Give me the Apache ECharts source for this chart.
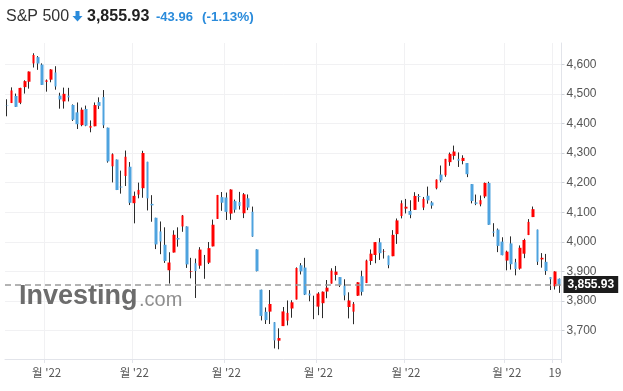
<!DOCTYPE html>
<html>
<head>
<meta charset="utf-8">
<script src="https://cdn.jsdelivr.net/npm/echarts@6/dist/echarts.min.js"></script>
<style>
html,body{margin:0;padding:0;background:#fff;}
#chart{width:623px;height:391px;}
</style>
</head>
<body>
<div id="chart"></div>
<script>
// ---- data (S&P 500 daily, Mar 21 - Sep 20, 2022) ----
const dates = [
'2022-03-21','2022-03-22','2022-03-23','2022-03-24','2022-03-25','2022-03-28','2022-03-29','2022-03-30','2022-03-31',
'2022-04-01','2022-04-04','2022-04-05','2022-04-06','2022-04-07','2022-04-08','2022-04-11','2022-04-12','2022-04-13','2022-04-14',
'2022-04-18','2022-04-19','2022-04-20','2022-04-21','2022-04-22','2022-04-25','2022-04-26','2022-04-27','2022-04-28','2022-04-29',
'2022-05-02','2022-05-03','2022-05-04','2022-05-05','2022-05-06','2022-05-09','2022-05-10','2022-05-11','2022-05-12','2022-05-13',
'2022-05-16','2022-05-17','2022-05-18','2022-05-19','2022-05-20','2022-05-23','2022-05-24','2022-05-25','2022-05-26','2022-05-27','2022-05-31',
'2022-06-01','2022-06-02','2022-06-03','2022-06-06','2022-06-07','2022-06-08','2022-06-09','2022-06-10','2022-06-13','2022-06-14',
'2022-06-15','2022-06-16','2022-06-17','2022-06-21','2022-06-22','2022-06-23','2022-06-24','2022-06-27','2022-06-28','2022-06-29','2022-06-30',
'2022-07-01','2022-07-05','2022-07-06','2022-07-07','2022-07-08','2022-07-11','2022-07-12','2022-07-13','2022-07-14','2022-07-15',
'2022-07-18','2022-07-19','2022-07-20','2022-07-21','2022-07-22','2022-07-25','2022-07-26','2022-07-27','2022-07-28','2022-07-29',
'2022-08-01','2022-08-02','2022-08-03','2022-08-04','2022-08-05','2022-08-08','2022-08-09','2022-08-10','2022-08-11','2022-08-12',
'2022-08-15','2022-08-16','2022-08-17','2022-08-18','2022-08-19','2022-08-22','2022-08-23','2022-08-24','2022-08-25','2022-08-26',
'2022-08-29','2022-08-30','2022-08-31',
'2022-09-01','2022-09-02','2022-09-06','2022-09-07','2022-09-08','2022-09-09','2022-09-12','2022-09-13','2022-09-14','2022-09-15',
'2022-09-16','2022-09-19','2022-09-20'
];
const opens = [
4462.4,4469.1,4493.1,4470.0,4522.9,4541.1,4602.9,4624.2,4599.0,
4540.3,4548.0,4572.5,4494.2,4474.7,4494.2,4462.6,4437.6,4394.3,4449.1,
4385.6,4390.6,4472.3,4489.2,4385.8,4255.3,4278.1,4186.5,4222.6,4253.8,
4130.6,4159.8,4181.2,4270.4,4128.2,4081.3,4035.2,3990.1,3903.9,3963.9,
4013.0,4052.0,4052.0,3899.0,3927.8,3919.4,3942.9,3929.6,3984.6,4077.4,4151.1,
4149.8,4095.4,4137.6,4134.7,4096.5,4147.1,4101.7,3974.4,3838.2,3763.5,
3764.1,3728.2,3665.9,3715.3,3733.9,3774.7,3805.2,3920.8,3913.0,3825.1,3786.0,
3781.0,3792.6,3832.0,3858.9,3888.3,3880.9,3851.9,3779.7,3764.0,3818.0,
3883.8,3860.7,3935.3,3955.5,3998.4,3965.7,3953.2,3951.4,4026.1,4087.3,
4112.4,4104.2,4108.0,4154.9,4115.9,4155.9,4133.1,4181.0,4227.4,4225.0,
4269.4,4290.5,4280.4,4273.1,4266.3,4195.1,4133.1,4126.6,4153.3,4198.7,
4034.6,4041.3,4000.7,
3936.7,3994.7,3930.9,3909.4,3959.9,4022.9,4083.7,4041.2,3940.7,3932.4,
3880.9,3849.9,3875.2
];
const highs = [
4481.8,4522.0,4501.1,4520.6,4546.0,4575.7,4637.3,4627.8,4603.1,
4548.7,4583.5,4593.5,4503.9,4521.2,4520.4,4464.4,4471.0,4453.9,4460.5,
4410.3,4471.0,4488.3,4512.9,4385.8,4299.0,4278.1,4240.7,4308.5,4269.7,
4169.8,4200.1,4307.7,4270.4,4157.7,4081.3,4068.8,4049.1,3964.8,4038.9,
4049.0,4090.7,4052.0,3945.9,3943.4,3981.9,3955.7,3999.3,4075.1,4158.5,4168.3,
4166.5,4177.5,4142.7,4168.8,4164.9,4160.1,4119.1,3974.4,3838.2,3778.2,
3837.1,3728.2,3707.7,3779.7,3801.8,3802.6,3913.7,3928.0,3945.9,3836.5,3818.0,
3829.8,3832.2,3870.9,3910.6,3918.5,3880.9,3873.4,3829.4,3796.4,3863.6,
3902.4,3939.8,3974.1,3999.3,4012.4,3975.3,3953.2,4039.6,4078.9,4140.2,
4145.0,4140.5,4167.7,4161.3,4151.6,4186.6,4137.3,4211.0,4257.9,4280.5,
4301.8,4325.3,4302.2,4292.5,4266.3,4195.1,4159.8,4156.6,4200.5,4203.0,
4063.0,4045.0,4015.4,
3970.2,4018.4,3942.6,3987.9,4010.5,4076.8,4119.3,4041.2,3961.9,3959.1,
3880.9,3900.5,3876.0
];
const lows = [
4424.3,4469.1,4455.8,4465.4,4501.1,4517.7,4589.1,4581.3,4530.4,
4507.6,4539.2,4514.2,4450.0,4450.3,4474.6,4408.4,4381.3,4390.7,4390.8,
4370.3,4390.6,4448.8,4384.5,4267.6,4200.8,4175.0,4162.9,4188.6,4124.3,
4062.5,4147.1,4148.9,4106.0,4067.9,3975.5,3958.2,3928.8,3858.9,3963.9,
3983.7,4033.9,3911.9,3876.6,3810.3,3909.0,3875.1,3925.0,3984.6,4077.4,4104.9,
4073.9,4074.4,4098.7,4109.2,4080.2,4107.2,4017.2,3900.2,3734.3,3722.3,
3722.3,3639.8,3636.9,3715.3,3717.7,3743.5,3805.2,3889.7,3820.1,3799.0,3738.7,
3752.1,3742.1,3809.4,3858.9,3869.3,3847.2,3802.4,3741.2,3721.6,3817.2,
3818.6,3860.7,3922.0,3927.6,3938.9,3943.5,3910.7,3951.4,3993.0,4079.2,
4096.0,4079.8,4108.0,4135.4,4107.3,4129.0,4112.1,4177.3,4201.4,4219.8,
4256.9,4277.8,4253.1,4262.0,4218.7,4129.9,4124.0,4120.0,4147.6,4057.7,
4017.4,3965.2,3954.5,
3903.7,3906.2,3886.8,3906.0,3944.8,4022.9,4083.7,3921.7,3912.7,3888.3,
3837.1,3838.8,3827.5
];
const closes = [
4461.2,4511.6,4456.2,4520.2,4543.1,4575.5,4631.6,4602.5,4530.4,
4545.9,4582.6,4525.1,4481.2,4500.2,4488.3,4412.5,4397.5,4446.6,4392.6,
4391.7,4462.2,4459.5,4393.7,4271.8,4296.1,4175.2,4184.0,4287.5,4131.9,
4155.4,4175.5,4300.2,4146.9,4123.3,3991.2,4001.1,3935.2,3930.1,4023.9,
4008.0,4088.9,3923.7,3900.8,3901.4,3973.8,3941.5,3978.7,4057.8,4158.2,4132.2,
4101.2,4176.8,4108.5,4121.4,4160.7,4115.8,4017.8,3900.9,3749.6,3735.5,
3790.0,3666.8,3674.8,3764.8,3759.9,3795.7,3911.7,3900.1,3821.6,3818.8,3785.4,
3825.3,3831.4,3845.1,3902.6,3899.4,3854.4,3818.8,3801.8,3790.4,3863.2,
3830.9,3936.7,3959.9,3999.0,3961.6,3966.8,3921.1,4023.6,4072.4,4130.3,
4118.6,4091.2,4155.2,4151.9,4145.2,4140.1,4122.5,4210.2,4207.3,4280.2,
4297.1,4305.2,4274.0,4283.7,4228.5,4138.0,4128.7,4140.8,4199.1,4057.7,
4030.6,3986.2,3955.0,
3966.9,3924.3,3908.2,3979.9,4006.2,4067.4,4110.4,3932.7,3946.0,3901.4,
3873.3,3899.89,3855.93
];
const yTicks = [3700,3800,3900,4000,4100,4200,4300,4400,4500,4600];
const monthLabel = "월 '22";
const dayLabelDate = '2022-09-19';
const dayLabel = '19';
const title = 'S&P 500';

// ---- derived ----
const UP = '#ff0000', DOWN = '#4ea3df', WICK = '#2b2b2b', BLUE_TXT = '#2a8bdb';
const wickData = dates.map((d, i) => [opens[i], closes[i], lows[i], highs[i]]);
const bodyData = dates.map((d, i) => [opens[i], closes[i], Math.min(opens[i], closes[i]), Math.max(opens[i], closes[i])]);
const last = closes[closes.length - 1], prev = closes[closes.length - 2];
const chg = last - prev, pct = chg / prev * 100;
const fmt2 = v => v.toLocaleString('en-US', {minimumFractionDigits: 2, maximumFractionDigits: 2});
const isMark = (idx) => {
  if (dates[idx] === dayLabelDate) return true;
  return idx > 0 && dates[idx].slice(5, 7) !== dates[idx - 1].slice(5, 7);
};
const markFn = (idx) => isMark(idx);

const chart = echarts.init(document.getElementById('chart'), null, {renderer: 'canvas'});
const FONT = '"Liberation Sans", Arial, sans-serif';
chart.setOption({
  animation: false,
  backgroundColor: '#fff',
  grid: {left: 5, right: 61.5, top: 43, bottom: 32, outerBoundsMode: 'none', containLabel: false},
  xAxis: {
    type: 'category',
    data: dates,
    boundaryGap: true,
    axisLine: {show: true, lineStyle: {color: '#e2e4ea', width: 1}},
    axisTick: {show: true, interval: markFn, length: 4, lineStyle: {color: '#e2e4ea'}},
    axisLabel: {
      interval: markFn, margin: 8, color: '#555', fontSize: 11.5,
      fontFamily: '"Noto Sans CJK KR", "Liberation Sans", sans-serif',
      formatter: (v) => v === dayLabelDate ? dayLabel : monthLabel
    },
    splitLine: {show: true, interval: markFn, lineStyle: {color: '#f1f1f3', width: 1}}
  },
  yAxis: {
    type: 'value',
    position: 'right',
    min: 3604, max: 4672,
    scale: true,
    axisLine: {show: true, lineStyle: {color: '#e2e4ea'}},
    axisTick: {show: true, length: 3, customValues: yTicks, lineStyle: {color: '#cfd2d8'}},
    axisLabel: {
      customValues: yTicks, margin: 5, color: '#555', fontSize: 12, fontFamily: FONT,
      formatter: v => v.toLocaleString('en-US')
    },
    splitLine: {show: true, lineStyle: {color: '#f1f1f3'}}
  },
  series: [
    {
      name: 'wick', type: 'candlestick', data: wickData, barWidth: 1, z: 2,
      itemStyle: {color: WICK, color0: WICK, borderColor: WICK, borderColor0: WICK, borderWidth: 1},
      emphasis: {disabled: true}
    },
    {
      name: 'body', type: 'candlestick', data: bodyData, barWidth: 3.2, z: 3,
      itemStyle: {color: UP, color0: DOWN, borderColor: UP, borderColor0: DOWN, borderWidth: 0},
      emphasis: {disabled: true},
      markLine: {
        silent: true, symbol: ['none', 'none'],
        lineStyle: {type: [6, 4], color: '#9b9b9b', width: 1.5},
        label: {
          show: true, position: 'end', distance: 2,
          formatter: () => fmt2(last),
          backgroundColor: '#1c1c1c', color: '#fff', fontWeight: 'bold', fontSize: 12,
          fontFamily: FONT, padding: [2, 4, 2, 4], lineHeight: 13
        },
        data: [{yAxis: last}]
      }
    }
  ],
  graphic: [
    {type: 'text', x: 6, y: 17, z: 10, style: {text: title, fontSize: 16, fontFamily: FONT, fill: '#333', verticalAlign: 'middle'}},
    {type: 'polygon', z: 10, shape: {points: [[75.5,11],[79.5,11],[79.5,16],[82.5,16],[77.5,21.5],[72.5,16],[75.5,16]]}, style: {fill: BLUE_TXT}},
    {type: 'text', x: 87, y: 17, z: 10, style: {text: fmt2(last), fontSize: 16, fontWeight: 'bold', fontFamily: FONT, fill: '#222', verticalAlign: 'middle'}},
    {type: 'text', x: 156, y: 17, z: 10, style: {text: (chg < 0 ? '-' : '+') + fmt2(Math.abs(chg)), fontSize: 13, fontWeight: 'bold', fontFamily: FONT, fill: BLUE_TXT, verticalAlign: 'middle'}},
    {type: 'text', x: 202, y: 17, z: 10, style: {text: '(' + (pct < 0 ? '-' : '+') + fmt2(Math.abs(pct)) + '%)', fontSize: 13.5, fontWeight: 'bold', fontFamily: FONT, fill: BLUE_TXT, verticalAlign: 'middle'}},
    {type: 'text', x: 19, y: 297, z: 1, style: {text: 'Investing', fontSize: 27, fontWeight: 'bold', fontFamily: FONT, fill: '#6c6c6c', verticalAlign: 'middle'}},
    {type: 'text', x: 139, y: 300, z: 1, style: {text: '.com', fontSize: 20, fontFamily: FONT, fill: '#8e8e8e', verticalAlign: 'middle'}}
  ]
});
</script>
</body>
</html>
